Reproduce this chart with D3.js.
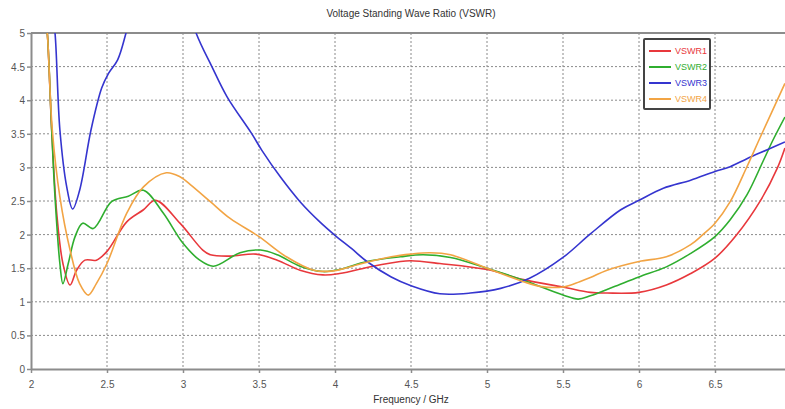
<!DOCTYPE html>
<html>
<head>
<meta charset="utf-8">
<script src="https://cdn.jsdelivr.net/npm/d3@7"></script>
<style>
  html, body { margin: 0; padding: 0; background: #fff; }
  svg { display: block; font-family: "Liberation Sans", "DejaVu Sans", sans-serif; }
</style>
</head>
<body>
<svg id="chart" width="785" height="409"></svg>
<script>
// Frequency (GHz) / VSWR pairs for each port
const vswr1 = [[2.1,5.1],[2.107,5.0],[2.136,3.56],[2.17,2.3],[2.21,1.57],[2.257,1.25],[2.30,1.47],[2.355,1.62],[2.43,1.62],[2.5,1.75],[2.63,2.19],[2.74,2.37],[2.82,2.51],[2.98,2.17],[3.13,1.77],[3.18,1.70],[3.31,1.68],[3.48,1.71],[3.62,1.62],[3.77,1.47],[3.92,1.40],[4.03,1.42],[4.25,1.53],[4.43,1.60],[4.5,1.61],[4.69,1.57],[5.0,1.48],[5.24,1.33],[5.5,1.22],[5.68,1.14],[5.79,1.13],[6.0,1.14],[6.18,1.25],[6.34,1.42],[6.5,1.65],[6.64,1.99],[6.80,2.51],[6.91,2.99],[6.96,3.29]];
const vswr2 = [[2.1,5.1],[2.107,5.0],[2.136,3.56],[2.158,2.56],[2.19,1.57],[2.21,1.27],[2.245,1.57],[2.29,1.97],[2.34,2.17],[2.41,2.09],[2.53,2.49],[2.64,2.57],[2.74,2.66],[2.87,2.32],[3.0,1.87],[3.11,1.62],[3.2,1.53],[3.375,1.73],[3.51,1.77],[3.62,1.70],[3.77,1.53],[3.92,1.45],[4.03,1.48],[4.21,1.60],[4.43,1.67],[4.58,1.70],[4.76,1.66],[5.0,1.50],[5.24,1.32],[5.5,1.10],[5.60,1.04],[5.68,1.09],[5.83,1.22],[6.0,1.37],[6.18,1.52],[6.34,1.72],[6.5,1.97],[6.60,2.22],[6.71,2.59],[6.82,3.11],[6.88,3.40],[6.96,3.75]];
const vswr3 = [[2.14,5.3],[2.158,5.0],[2.19,3.56],[2.235,2.71],[2.274,2.38],[2.32,2.66],[2.395,3.56],[2.465,4.18],[2.51,4.40],[2.57,4.6],[2.63,5.04],[2.72,5.8],[2.85,6.2],[2.98,5.8],[3.086,5.0],[3.19,4.5],[3.29,4.05],[3.45,3.51],[3.52,3.25],[3.64,2.86],[3.77,2.49],[3.90,2.19],[4.0,1.99],[4.11,1.79],[4.21,1.60],[4.37,1.37],[4.5,1.24],[4.69,1.12],[4.89,1.13],[5.09,1.20],[5.28,1.35],[5.5,1.66],[5.68,2.01],[5.88,2.37],[6.0,2.51],[6.16,2.69],[6.34,2.81],[6.5,2.94],[6.60,3.01],[6.71,3.13],[6.84,3.26],[6.96,3.38]];
const vswr4 = [[2.1,5.1],[2.107,5.0],[2.14,3.56],[2.19,2.56],[2.257,1.77],[2.32,1.27],[2.377,1.10],[2.43,1.27],[2.5,1.57],[2.63,2.32],[2.74,2.71],[2.89,2.92],[2.98,2.86],[3.05,2.74],[3.18,2.49],[3.31,2.24],[3.50,1.97],[3.68,1.67],[3.86,1.47],[3.99,1.46],[4.16,1.56],[4.37,1.67],[4.5,1.71],[4.625,1.73],[4.76,1.70],[5.0,1.50],[5.24,1.30],[5.35,1.23],[5.5,1.22],[5.61,1.30],[5.68,1.36],[5.79,1.47],[6.0,1.60],[6.18,1.67],[6.34,1.85],[6.42,2.0],[6.5,2.17],[6.60,2.49],[6.71,3.01],[6.80,3.46],[6.96,4.25]];

const seriesNames = ["VSWR1", "VSWR2", "VSWR3", "VSWR4"];
const seriesColors = ["#e8383c", "#2fae2f", "#3535cf", "#f2a444"];
const seriesData = [vswr1, vswr2, vswr3, vswr4];

const xTicks = [2, 2.5, 3, 3.5, 4, 4.5, 5, 5.5, 6, 6.5];
const yTicks = [0, 0.5, 1, 1.5, 2, 2.5, 3, 3.5, 4, 4.5, 5];

const titleText = "Voltage Standing Wave Ratio (VSWR)";
const xLabel = "Frequency / GHz";

const svg = d3.select("#chart");
const W = 785, H = 409;
const plotL = 31, plotT = 33, plotB = 369, plotR = 791;

const x = d3.scaleLinear().domain([2, 7]).range([plotL, plotR]);
const y = d3.scaleLinear().domain([0, 5]).range([plotB, plotT]);

svg.append("defs").append("clipPath").attr("id", "plotClip")
  .append("rect").attr("x", plotL).attr("y", plotT)
  .attr("width", plotR - plotL).attr("height", plotB - plotT);

// grid lines
const grid = svg.append("g");
grid.selectAll("line.vx").data(xTicks.filter(d => d > 2)).join("line")
  .attr("x1", d => x(d)).attr("x2", d => x(d))
  .attr("y1", plotT).attr("y2", plotB)
  .attr("stroke", "#8a8a8a").attr("stroke-width", 1)
  .attr("stroke-dasharray", "2,2");
grid.selectAll("line.hy").data(yTicks.filter(d => d > 0 && d < 5)).join("line")
  .attr("x1", plotL).attr("x2", W)
  .attr("y1", d => y(d)).attr("y2", d => y(d))
  .attr("stroke", "#8a8a8a").attr("stroke-width", 1)
  .attr("stroke-dasharray", "2,2");

// axes
const xAxis = svg.append("g").attr("transform", `translate(0,${plotB})`)
  .call(d3.axisBottom(x).tickValues(xTicks).tickSize(4).tickSizeOuter(0).tickPadding(8)
    .tickFormat(d3.format("")));
const yAxis = svg.append("g").attr("transform", `translate(${plotL},0)`)
  .call(d3.axisLeft(y).tickValues(yTicks).tickSize(4).tickSizeOuter(0).tickPadding(2)
    .tickFormat(d3.format("")));
[xAxis, yAxis].forEach(a => {
  a.select(".domain").attr("stroke", "#8c8c8c").attr("stroke-width", 2);
  a.selectAll(".tick line").attr("stroke", "#8c8c8c").attr("stroke-width", 1.5);
  a.selectAll(".tick text").attr("fill", "#555").attr("font-size", 10)
    .attr("font-family", "Liberation Sans, DejaVu Sans, sans-serif");
});
yAxis.selectAll(".tick text").attr("dy", "0.35em");

// top border
svg.append("line").attr("x1", plotL).attr("x2", W).attr("y1", plotT).attr("y2", plotT)
  .attr("stroke", "#8c8c8c").attr("stroke-width", 2);

// curves
const line = d3.line()
  .x(d => x(d[0])).y(d => y(d[1]))
  .curve(d3.curveCatmullRom.alpha(0.5));

svg.append("g").attr("clip-path", "url(#plotClip)")
  .selectAll("path").data(seriesData).join("path")
  .attr("d", line)
  .attr("fill", "none")
  .attr("stroke", (d, i) => seriesColors[i])
  .attr("stroke-width", 1.6)
  .attr("stroke-linejoin", "round");

// title and axis label
svg.append("text").attr("x", 411).attr("y", 17).attr("text-anchor", "middle")
  .attr("font-size", 10).attr("fill", "#333").text(titleText);
svg.append("text").attr("x", 411).attr("y", 403).attr("text-anchor", "middle")
  .attr("font-size", 10).attr("fill", "#333").text(xLabel);

// legend
const lg = svg.append("g").attr("transform", "translate(644,39)");
lg.append("rect").attr("x", 0).attr("y", 0).attr("width", 66).attr("height", 70)
  .attr("fill", "#fff").attr("stroke", "#444").attr("stroke-width", 2).attr("rx", 1);
seriesNames.forEach((name, i) => {
  const yy = 12 + i * 16;
  lg.append("line").attr("x1", 5).attr("x2", 27).attr("y1", yy).attr("y2", yy)
    .attr("stroke", seriesColors[i]).attr("stroke-width", 2);
  lg.append("text").attr("x", 31).attr("y", yy).attr("dy", "0.35em")
    .attr("font-size", 9).attr("fill", seriesColors[i]).text(name);
});
</script>
</body>
</html>
